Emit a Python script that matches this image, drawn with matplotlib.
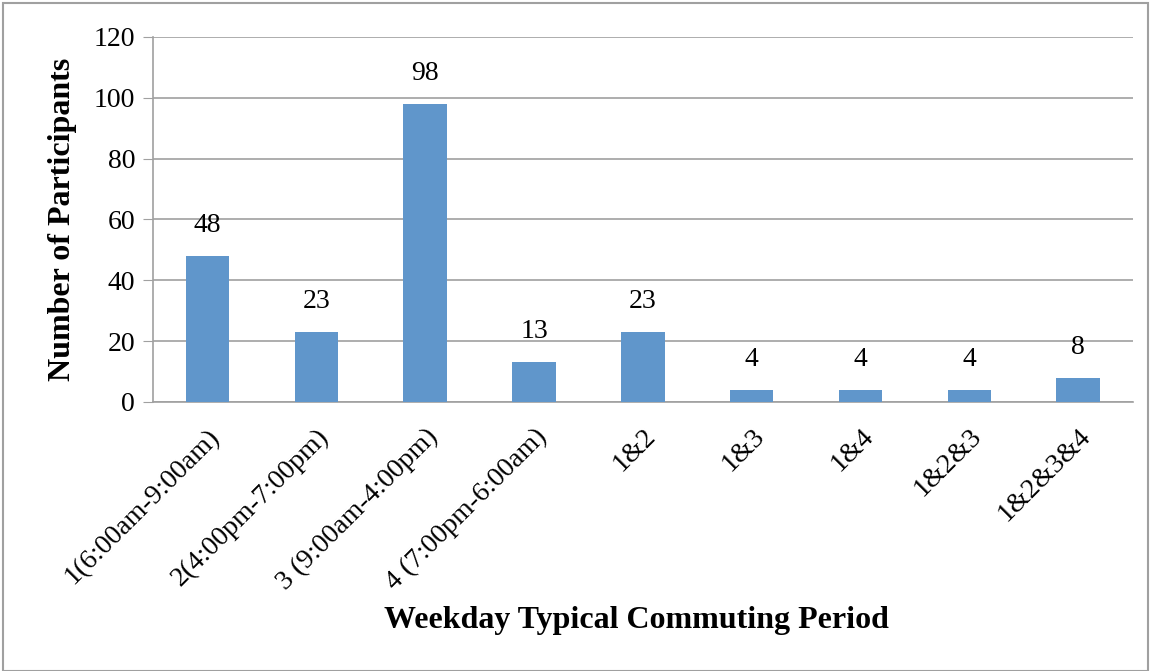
import matplotlib.pyplot as plt
from matplotlib.patches import Rectangle

categories = ['1(6:00am-9:00am)', '2(4:00pm-7:00pm)', '3 (9:00am-4:00pm)',
              '4 (7:00pm-6:00am)', '1&2', '1&3', '1&4', '1&2&3', '1&2&3&4']
participants = [48, 23, 98, 13, 23, 4, 4, 4, 8]

plt.rcParams['font.family'] = ['Liberation Serif', 'DejaVu Serif']

fig = plt.figure(figsize=(11.51, 6.71), dpi=100)
ax = fig.add_axes([0.133, 0.401, 0.851, 0.544])

x = list(range(len(categories)))
ax.bar(x, participants, width=0.4, color='#6096CB', zorder=3)
for xi, v in zip(x, participants):
    ax.annotate(str(v), (xi, v), xytext=(0, 13), textcoords='offset points',
                ha='center', va='bottom', fontsize=20)

ax.set_xlim(-0.5, len(categories) - 0.5)
ax.set_ylim(0, 120)
ax.set_yticks(range(0, 121, 20))
ax.yaxis.grid(True, color='#A0A0A0', linewidth=1.2, zorder=0)
ax.set_xticks(x)
ax.set_xticklabels(categories, rotation=45, ha='right', rotation_mode='anchor', fontsize=20)
ax.tick_params(axis='x', length=0, pad=16)
ax.tick_params(axis='y', length=7, color='#A0A0A0', labelsize=20, pad=6)
for s in ['top', 'right']:
    ax.spines[s].set_visible(False)
for s in ['left', 'bottom']:
    ax.spines[s].set_color('#A0A0A0')
    ax.spines[s].set_linewidth(1.2)

ax.set_ylabel('Number of Participants', fontsize=23, fontweight='bold', labelpad=12)
fig.text(0.553, 0.075, 'Weekday Typical Commuting Period', fontsize=23,
         fontweight='bold', ha='center', va='center')

fig.patches.append(Rectangle((0.003, 0.0), 0.994, 0.995, transform=fig.transFigure,
                             fill=False, edgecolor='#A0A0A0', linewidth=1.5))

fig.savefig('out.png', dpi=100)
